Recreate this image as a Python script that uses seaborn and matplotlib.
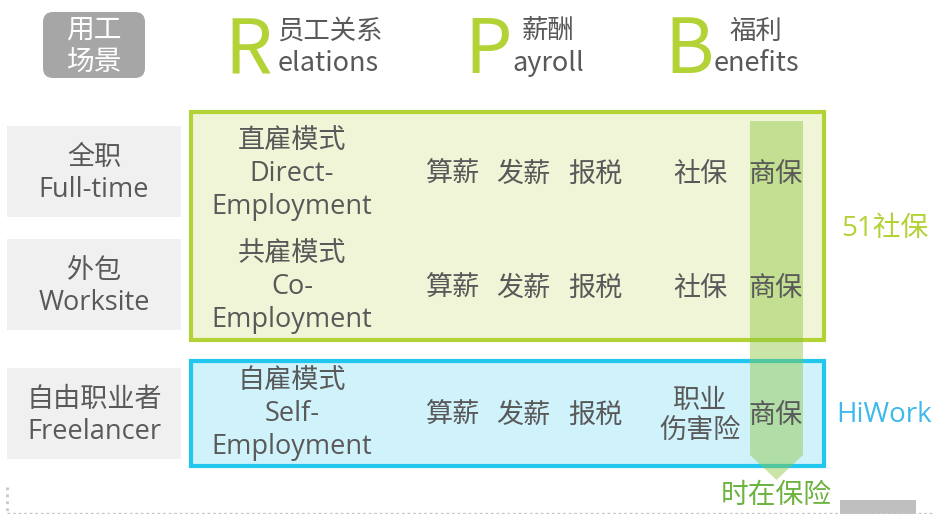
import numpy as np
import seaborn as sns
import matplotlib.pyplot as plt
from matplotlib.patches import Rectangle, FancyBboxPatch, Polygon

sns.set_theme(style="white")
plt.rcParams['font.family'] = ['Open Sans', 'Noto Sans CJK SC', 'DejaVu Sans']

# text content
corner_label = "用工\n场景"
header_letters = ["R", "P", "B"]
header_cn = ["员工关系", "薪酬", "福利"]
header_en = ["elations", "ayroll", "enefits"]
scenarios = ["全职\nFull-time", "外包\nWorksite", "自由职业者\nFreelancer"]
modes = ["直雇模式\nDirect-\nEmployment", "共雇模式\nCo-\nEmployment", "自雇模式\nSelf-\nEmployment"]
payroll_items = ["算薪", "发薪", "报税"]
social_items = ["社保", "社保", "职业\n伤害险"]
commercial = "商保"
brands = ["51社保", "HiWork", "时在保险"]

# colours
GREEN = "#b2d235"
BLUE = "#22c7ee"
TEXT = "#595959"
GREY_BOX = "#f0f0f0"

# layout (pixel space of a 934x514 canvas)
row_y = [175, 289, 416]
mode_y = [174, 287, 414]
letter_x = [224, 464, 664]
cn_x = [330, 548, 756]
en_x = [278, 512, 714]
item_x = [452, 523, 595]
social_x = 700
comm_x = 776

fig = plt.figure(figsize=(9.34, 5.14), dpi=100)
ax = fig.add_axes([0, 0, 1, 1])
ax.set_xlim(0, 934)
ax.set_ylim(514, 0)
ax.axis("off")

# corner label
ax.add_patch(FancyBboxPatch((43, 12), 102, 66, boxstyle="round,pad=0,rounding_size=10",
                            fc="#a6a6a6", ec="none"))
ax.text(94, 46, corner_label, ha="center", va="center", color="white",
        fontsize=20, linespacing=1.15, family=['Noto Sans CJK SC'])

# headers
for i in range(3):
    ax.text(letter_x[i], 73, header_letters[i], ha="left", va="baseline", color=GREEN,
            fontsize=54, family=['Noto Sans CJK SC'])
    ax.text(cn_x[i], 31, header_cn[i], ha="center", va="center", color=TEXT,
            fontsize=19, family=['Noto Sans CJK SC'])
    ax.text(en_x[i], 71, header_en[i], ha="left", va="baseline", color=TEXT,
            fontsize=19.5, family=['Noto Sans CJK SC'])

# left scenario boxes
box_tops = [126, 239, 368]
for top, s in zip(box_tops, scenarios):
    ax.add_patch(Rectangle((7, top), 174, 91, fc=GREY_BOX, ec="none"))
    ax.text(94, top + 48, s, ha="center", va="center", color=TEXT,
            fontsize=19.5, linespacing=1.2)

# main boxes
ax.add_patch(Rectangle((191, 112), 633, 228, fc="#eff5d6", ec=GREEN, lw=3))
ax.add_patch(Rectangle((191, 361), 633, 105, fc="#d0f2fb", ec=BLUE, lw=3))

# commercial insurance arrow
a_left, a_right, a_top, a_body, a_tip = 750, 803, 121, 455, 480
ax.add_patch(Polygon([(a_left, a_top), (a_right, a_top), (a_right, a_body),
                      ((a_left + a_right) / 2, a_tip), (a_left, a_body)],
                     closed=True, fc="#8cc63f", ec="none", alpha=0.45, zorder=3))

for i, y in enumerate(row_y):
    ax.text(292, mode_y[i], modes[i], ha="center", va="center", color=TEXT,
            fontsize=19.5, linespacing=1.25, zorder=4)
    for x, it in zip(item_x, payroll_items):
        ax.text(x, y, it, ha="center", va="center", color=TEXT, fontsize=19.5, zorder=4)
    ax.text(social_x, y, social_items[i], ha="center", va="center", color=TEXT,
            fontsize=19.5, linespacing=1.12, zorder=4)
    ax.text(comm_x, y, commercial, ha="center", va="center", color=TEXT,
            fontsize=19.5, zorder=4)

# brand labels
ax.text(885, 229, brands[0], ha="center", va="center", color=GREEN, fontsize=20)
ax.text(884, 415, brands[1], ha="center", va="center", color="#3db9ec", fontsize=20)
ax.text(776, 496, brands[2], ha="center", va="center", color="#6db33f", fontsize=20)

# footer bits
ax.add_patch(Rectangle((840, 500), 76, 16, fc="#bfbfbf", ec="none"))
ax.plot([7, 934], [512.5, 512.5], color="#c8c8c8", lw=1, ls=(0, (2, 2)))
ax.plot([7, 7], [487, 514], color="#c8c8c8", lw=2, ls=(0, (1, 1.5)))

fig.savefig("out.png", dpi=100)
